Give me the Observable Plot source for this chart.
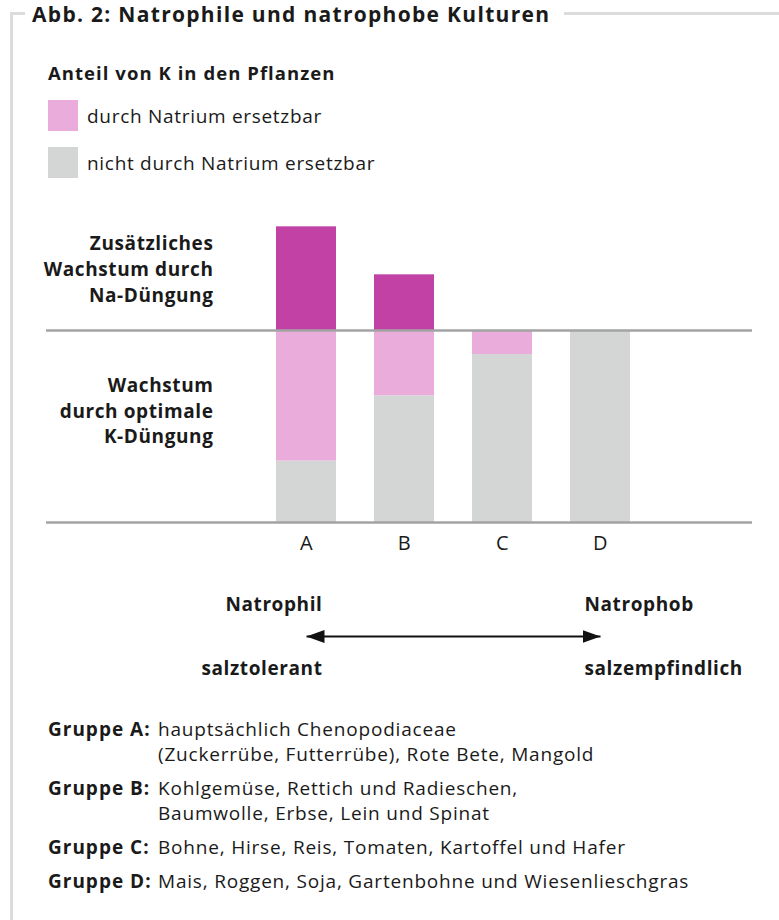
<!DOCTYPE html>
<html lang="de">
<head>
<meta charset="utf-8">
<script src="https://cdn.jsdelivr.net/npm/d3@7"></script>
<script src="https://cdn.jsdelivr.net/npm/@observablehq/plot@0.6"></script>
<style>
  body { margin: 0; background: #fff; font-family: "Open Sans", sans-serif; color: #1a1a1a; }
  #page { position: relative; width: 779px; height: 920px; overflow: hidden; background: #fff; }
  #frame { position: absolute; left: 10px; top: 12px; width: 900px; height: 1000px;
           border-left: 3px solid #dcdcdc; border-top: 3px solid #dcdcdc; }
  #title { position: absolute; left: 25px; top: 0; padding: 0 14px 0 7px; background: #fff;
           font-weight: 700; font-size: 21px; letter-spacing: 1.3px; line-height: 28px; white-space: nowrap; }
  #legendTitle { position: absolute; left: 48px; top: 61px; font-weight: 700; font-size: 18.5px;
                 letter-spacing: 1.05px; line-height: 24px; white-space: nowrap; }
  .lg { position: absolute; left: 48px; height: 31px; display: flex; align-items: center;
        font-size: 19px; letter-spacing: 0.7px; white-space: nowrap; }
  .lg .sw { width: 30px; height: 31px; margin-right: 9px; }
  #chart, #arrow { position: absolute; left: 0; }
  #chart { top: 200px; }
  #arrow { top: 580px; }
  #groups { position: absolute; left: 48px; top: 716.5px; font-size: 19px; letter-spacing: 0.8px; line-height: 25px;
            display: grid; grid-template-columns: 110px auto; row-gap: 9px; white-space: nowrap; }
  #groups b { font-weight: 700; letter-spacing: 1px; }
  svg text { letter-spacing: 0.6px; }
</style>
</head>
<body>
<div id="page">
  <div id="frame"></div>
  <div id="title"></div>
  <div id="legendTitle"></div>
  <div id="legend"></div>
  <div id="chart"></div>
  <div id="arrow"></div>
  <div id="groups"></div>
</div>
<script>
// ---------- data ----------
const titleText = "Abb. 2: Natrophile und natrophobe Kulturen";
const legendTitle = "Anteil von K in den Pflanzen";
const groups = ["A", "B", "C", "D"];
const notReplaceable = [32, 66, 87.5, 100];   // nicht durch Natrium ersetzbar (in % der optimalen K-Düngung)
const replaceable = [68, 34, 12.5, 0];        // durch Natrium ersetzbar
const naExtra = [54, 29, 0, 0];               // zusätzliches Wachstum durch Na-Düngung
const partNames = ["nicht durch Natrium ersetzbar", "durch Natrium ersetzbar", "Zusätzliches Wachstum durch Na-Düngung"];
const partColors = ["#d4d6d5", "#e9acdb", "#c241a5"];
const legendParts = ["durch Natrium ersetzbar", "nicht durch Natrium ersetzbar"];
const upperLabel = "Zusätzliches\nWachstum durch\nNa-Düngung";
const lowerLabel = "Wachstum\ndurch optimale\nK-Düngung";
const scaleLeft = ["Natrophil", "salztolerant"];
const scaleRight = ["Natrophob", "salzempfindlich"];
const groupNames = ["Gruppe A:", "Gruppe B:", "Gruppe C:", "Gruppe D:"];
const groupTexts = [
  ["hauptsächlich Chenopodiaceae", "(Zuckerrübe, Futterrübe), Rote Bete, Mangold"],
  ["Kohlgemüse, Rettich und Radieschen,", "Baumwolle, Erbse, Lein und Spinat"],
  ["Bohne, Hirse, Reis, Tomaten, Kartoffel und Hafer"],
  ["Mais, Roggen, Soja, Gartenbohne und Wiesenlieschgras"]
];

// ---------- header & legend ----------
document.getElementById("title").textContent = titleText;
document.getElementById("legendTitle").textContent = legendTitle;
const legend = document.getElementById("legend");
legendParts.forEach((p, i) => {
  const row = document.createElement("div");
  row.className = "lg";
  row.style.top = (100 + i * 47) + "px";
  const sw = document.createElement("div");
  sw.className = "sw";
  sw.style.background = partColors[partNames.indexOf(p)];
  row.appendChild(sw);
  row.appendChild(document.createTextNode(p));
  legend.appendChild(row);
});

// ---------- bars ----------
const rows = [];
groups.forEach((g, i) => {
  rows.push({group: g, part: partNames[0], value: notReplaceable[i]});
  rows.push({group: g, part: partNames[1], value: replaceable[i]});
  rows.push({group: g, part: partNames[2], value: naExtra[i]});
});

const xScale = {type: "band", domain: groups, range: [236.5, 670.5], padding: 0.384};
const font = "'Open Sans', sans-serif";

const chart = Plot.plot({
  width: 779,
  height: 370,
  marginTop: 0, marginBottom: 48, marginLeft: 46, marginRight: 27,
  style: {fontFamily: font, fontSize: "20px", color: "#1a1a1a", background: "transparent"},
  x: {...xScale, label: null, tickSize: 0, tickPadding: 13},
  y: {domain: [0, 100], range: [322, 130], axis: null},
  color: {domain: partNames, range: partColors},
  marks: [
    Plot.barY(rows, Plot.stackY({x: "group", y: "value", fill: "part", order: partNames})),
    Plot.ruleY([0, 100], {stroke: "#a3a3a3", strokeWidth: 2.5}),
    Plot.text([upperLabel], {
      text: d => d, y: () => 100 + d3.max(naExtra) / 2, frameAnchor: "left",
      textAnchor: "end", dx: 167, dy: -11, fontWeight: "bold", fontSize: 19,
      lineHeight: 1.35, fill: "#1a1a1a"
    }),
    Plot.text([lowerLabel], {
      text: d => d, y: () => 50, frameAnchor: "left",
      textAnchor: "end", dx: 167, dy: -17, fontWeight: "bold", fontSize: 19,
      lineHeight: 1.35, fill: "#1a1a1a"
    })
  ]
});
document.getElementById("chart").appendChild(chart);

// ---------- natrophil / natrophob arrow ----------
const rowsY = ["oben", "Pfeil", "unten"];
const arrowPlot = Plot.plot({
  width: 779,
  height: 110,
  margin: 0,
  style: {fontFamily: font, fontSize: "19px", color: "#1a1a1a", background: "transparent"},
  x: {...xScale, axis: null},
  y: {type: "point", domain: rowsY, range: [24, 88], padding: 0, axis: null},
  marks: [
    Plot.link([0], {x1: () => groups[0], x2: () => groups[groups.length - 1],
      y1: () => "Pfeil", y2: () => "Pfeil", stroke: "#111", strokeWidth: 2,
      markerStart: "arrow", markerEnd: "arrow"}),
    Plot.text(scaleLeft, {text: d => d, x: () => groups[0], y: (d, i) => i === 0 ? "oben" : "unten",
      textAnchor: "end", dx: 16, fontWeight: "bold", fill: "#1a1a1a"}),
    Plot.text(scaleRight, {text: d => d, x: () => groups[groups.length - 1], y: (d, i) => i === 0 ? "oben" : "unten",
      textAnchor: "start", dx: -16, fontWeight: "bold", fill: "#1a1a1a"})
  ]
});
// filled triangular arrow heads
arrowPlot.querySelectorAll("marker").forEach(m => {
  m.setAttribute("viewBox", "-10 -5 10 10");
  m.setAttribute("markerUnits", "userSpaceOnUse");
  m.setAttribute("markerWidth", 18);
  m.setAttribute("markerHeight", 13);
  m.setAttribute("preserveAspectRatio", "none");
  m.setAttribute("orient", "auto-start-reverse");
  m.setAttribute("refX", 0);
  m.setAttribute("refY", 0);
  m.setAttribute("fill", "#111");
  m.setAttribute("stroke", "none");
  m.innerHTML = '<path d="M-10,-5L0,0L-10,5Z"></path>';
});
document.getElementById("arrow").appendChild(arrowPlot);

// ---------- group list ----------
const gl = document.getElementById("groups");
groupNames.forEach((n, i) => {
  const a = document.createElement("b");
  a.textContent = n;
  const t = document.createElement("div");
  t.innerHTML = groupTexts[i].map(s => s.replace(/&/g, "&amp;")).join("<br>");
  gl.appendChild(a);
  gl.appendChild(t);
});
</script>
</body>
</html>
